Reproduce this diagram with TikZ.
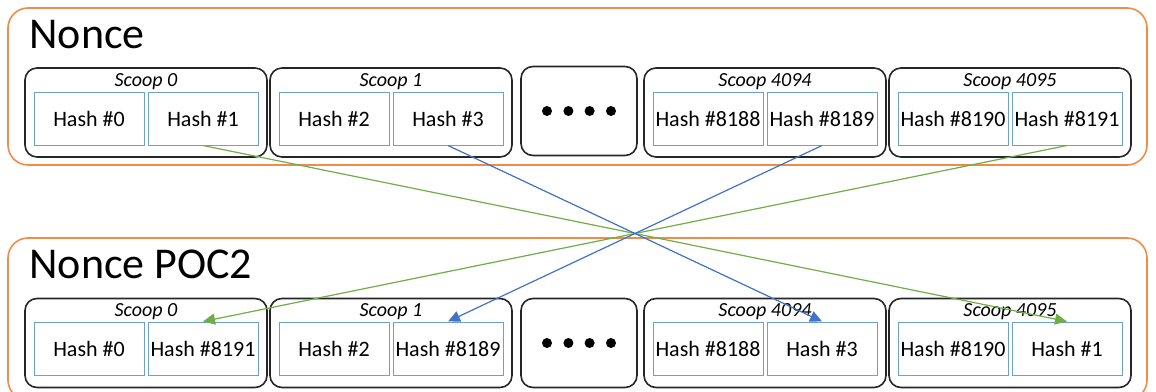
\documentclass[tikz,border=0pt]{standalone}
\usepackage{fontspec}
\setmainfont{Carlito}
\usepackage{tikz}
\usetikzlibrary{arrows.meta}
\usetikzlibrary{positioning}
\definecolor{boxOrange}{RGB}{240,140,75}
\definecolor{hashBlue}{RGB}{110,160,205}
\definecolor{arrowBlue}{RGB}{68,114,196}
\definecolor{arrowGreen}{RGB}{112,173,71}

\begin{document}
\begin{tikzpicture}[x=0.5pt,y=-0.5pt]
\tikzset{
  nonceBox/.style={
    draw=boxOrange,
                   line width=0.8pt,
                   rounded corners=10pt,
                   minimum width=569.5pt,
                   inner sep=0pt
    },
  titleNode/.style={
    anchor=base west,
                   inner sep=0pt,
                   font=\fontsize{22pt}{25pt}\selectfont
    },
  scoopNode/.style={
    draw=black!85,
                   line width=0.8pt,
                   rounded corners=6pt,
                   minimum width=121pt,
                   minimum height=44.5pt,
                   inner sep=0pt
    },
  dotsNode/.style={
    scoopNode,
                   minimum width=58pt
    },
  scoopLabel/.style={
    anchor=base,
                   inner sep=0pt,
                   font=\itshape\fontsize{10pt}{12pt}\selectfont
    },
  hashNode/.style={
    draw=hashBlue,
                   line width=0.5pt,
                   minimum width=55pt,
                   minimum height=26.5pt,
                   inner sep=0pt,
                   font=\fontsize{11pt}{13pt}\selectfont
    },
  swapArrow/.style={
    -{Triangle[length=6pt,width=5.5pt]},
                   line width=0.6pt
    }
}
    \useasboundingbox (0,0) rectangle (1156,391);

    % Nonce
    \node (N)[nonceBox, minimum height=78.5pt] at (577.5,86.5) {};
    \node (NT)[titleNode] at (29,48) {Nonce};

    \node (S0)[scoopNode] at (146,112.5) {};
    \node (S1)[scoopNode] at (391,112.5) {};
    \node (D)[dotsNode] at (579,111) {};
    \node (S4094)[scoopNode] at (765,112.5) {};
    \node (S4095)[scoopNode] at (1010,112.5) {};

    \node (L0)[scoopLabel] at (146,86) {Scoop 0};
    \node (L1)[scoopLabel] at (391,86) {Scoop 1};
    \node (L4094)[scoopLabel] at (765,86) {Scoop 4094};
    \node (L4095)[scoopLabel] at (1010,86) {Scoop 4095};

    \node (h0)[hashNode] at (89,118.5) {Hash \#0};
    \node (h1)[hashNode] at (203,118.5) {Hash \#1};
    \node (h2)[hashNode] at (334,118.5) {Hash \#2};
    \node (h3)[hashNode] at (448,118.5) {Hash \#3};
    \node (h8188)[hashNode] at (708,118.5) {Hash \#8188};
    \node (h8189)[hashNode] at (822,118.5) {Hash \#8189};
    \node (h8190)[hashNode] at (953,118.5) {Hash \#8190};
    \node (h8191)[hashNode] at (1067,118.5) {Hash \#8191};

    \fill ([xshift=-16pt]D.center) circle (2.5pt);
    \fill ([xshift=-5.3pt]D.center) circle (2.5pt);
    \fill ([xshift=5.3pt]D.center) circle (2.5pt);
    \fill ([xshift=16pt]D.center) circle (2.5pt);

    % Nonce POC2
    \node (P)[nonceBox, minimum height=81pt] at (577.5,319) {};
    \node (PT)[titleNode] at (29,278) {Nonce POC2};

    \node (P0)[scoopNode] at (146,343) {};
    \node (P1)[scoopNode] at (391,343) {};
    \node (DP)[dotsNode] at (579,343) {};
    \node (P4094)[scoopNode] at (765,343) {};
    \node (P4095)[scoopNode] at (1010,343) {};

    \node (M0)[scoopLabel] at (146,316) {Scoop 0};
    \node (M1)[scoopLabel] at (391,316) {Scoop 1};
    \node (M4094)[scoopLabel] at (765,316) {Scoop 4094};
    \node (M4095)[scoopLabel] at (1010,316) {Scoop 4095};

    \node (p0)[hashNode] at (89,348.5) {Hash \#0};
    \node (p8191)[hashNode] at (203,348.5) {Hash \#8191};
    \node (p2)[hashNode] at (334,348.5) {Hash \#2};
    \node (p8189)[hashNode] at (448,348.5) {Hash \#8189};
    \node (p8188)[hashNode] at (708,348.5) {Hash \#8188};
    \node (p3)[hashNode] at (822,348.5) {Hash \#3};
    \node (p8190)[hashNode] at (953,348.5) {Hash \#8190};
    \node (p1)[hashNode] at (1067,348.5) {Hash \#1};

    \fill ([xshift=-16pt]DP.center) circle (2.5pt);
    \fill ([xshift=-5.3pt]DP.center) circle (2.5pt);
    \fill ([xshift=5.3pt]DP.center) circle (2.5pt);
    \fill ([xshift=16pt]DP.center) circle (2.5pt);

    % swapped hashes
    \draw[swapArrow, arrowGreen] (h1.south) -- (p1.north);
    \draw[swapArrow, arrowGreen] (h8191.south) -- (p8191.north);
    \draw[swapArrow, arrowBlue] (h3.south) -- (p3.north);
    \draw[swapArrow, arrowBlue] (h8189.south) -- (p8189.north);

\end{tikzpicture}
\end{document}
